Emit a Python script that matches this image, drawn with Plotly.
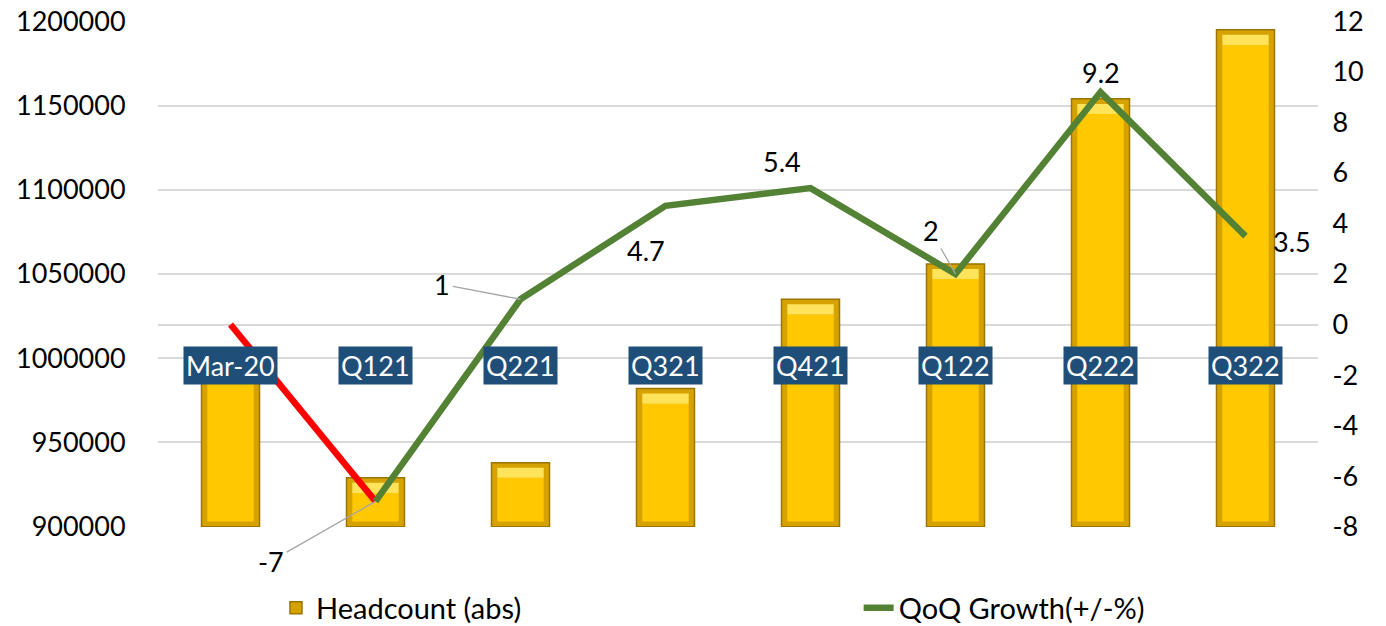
import plotly.graph_objects as go

categories = ["Mar-20", "Q121", "Q221", "Q321", "Q421", "Q122", "Q222", "Q322"]
headcount = [999000, 929000, 938000, 982000, 1035000, 1056000, 1154000, 1195000]
growth = [0, -7, 1, 4.7, 5.4, 2, 9.2, 3.5]
left_ticks = [900000, 950000, 1000000, 1050000, 1100000, 1150000, 1200000]
right_ticks = [-8, -6, -4, -2, 0, 2, 4, 6, 8, 10, 12]

FONT = "Lato"
GREEN = "#548235"
BASE = left_ticks[0]
EDGE = 3000      # bevel thickness (axis units) used for styling
TOPBAND = 9000
PAD = 0.0007     # tiny range padding so edge gridlines are drawn

lspan = left_ticks[-1] - left_ticks[0]
rspan = right_ticks[-1] - right_ticks[0]

fig = go.Figure()

fig.add_trace(go.Bar(
    x=categories, y=[v - BASE for v in headcount], base=BASE, width=0.4,
    name="Headcount (abs)",
    marker=dict(color="#D6A200", line=dict(color="#9C7400", width=1.5)),
    yaxis="y", hoverinfo="skip", legend="legend",
))
fig.add_trace(go.Bar(
    x=categories, y=[v - BASE - EDGE - TOPBAND for v in headcount], base=BASE + EDGE,
    width=0.32, marker=dict(color="#FFC800", line=dict(width=0)),
    showlegend=False, yaxis="y", hoverinfo="skip",
))
fig.add_trace(go.Bar(
    x=categories, y=[TOPBAND - EDGE] * len(categories),
    base=[v - TOPBAND for v in headcount],
    width=0.32, marker=dict(color="#FFE35A", line=dict(width=0)),
    showlegend=False, yaxis="y", hoverinfo="skip",
))

fig.add_trace(go.Scatter(
    x=categories[:2], y=growth[:2], mode="lines",
    line=dict(color="#FF0000", width=6.5), showlegend=False,
    yaxis="y2", hoverinfo="skip",
))
fig.add_trace(go.Scatter(
    x=categories[1:], y=growth[1:], mode="lines",
    line=dict(color=GREEN, width=6.5), name="QoQ Growth(+/-%)",
    yaxis="y2", hoverinfo="skip", legend="legend2",
))

annotations = []
for c in categories:
    annotations.append(dict(
        x=c, xref="x", y=0.32, yref="paper", text=c, showarrow=False,
        font=dict(family=FONT, size=27, color="white"),
        bgcolor="#1F4E79", borderpad=2, xanchor="center", yanchor="middle",
    ))

label_style = {
    1: dict(showarrow=True, ax=-105, ay=60),
    2: dict(showarrow=True, ax=-79, ay=-15),
    3: dict(showarrow=False, xshift=-20, yshift=-45),
    4: dict(showarrow=False, xshift=-29, yshift=27),
    5: dict(showarrow=True, ax=-25, ay=-44),
    6: dict(showarrow=False, yshift=20),
    7: dict(showarrow=False, xshift=46, yshift=-5),
}
for i, st in label_style.items():
    a = dict(x=categories[i], y=growth[i], xref="x", yref="y2",
             text=f"{growth[i]:g}", font=dict(family=FONT, size=27, color="black"))
    if st.get("showarrow"):
        a.update(showarrow=True, ax=st["ax"], ay=st["ay"], arrowhead=0,
                 arrowwidth=1.3, arrowcolor="#A6A6A6", standoff=0, startstandoff=2)
    else:
        a.update(showarrow=False, xshift=st.get("xshift", 0), yshift=st.get("yshift", 0))
    annotations.append(a)

legend_common = dict(orientation="h", yanchor="middle", xanchor="left",
                     font=dict(family=FONT, size=29), bgcolor="rgba(0,0,0,0)")

fig.update_layout(
    width=1386, height=626,
    margin=dict(l=158, r=68, t=21, b=99, autoexpand=False),
    paper_bgcolor="white", plot_bgcolor="white",
    font=dict(family=FONT, size=27, color="black"),
    barmode="overlay",
    xaxis=dict(type="category", range=[-0.5, 7.5], showticklabels=False,
               showgrid=False, zeroline=False, showline=False, ticks=""),
    yaxis=dict(range=[left_ticks[0] - PAD * lspan, left_ticks[-1] + PAD * lspan],
               tickvals=left_ticks, ticktext=[str(v) for v in left_ticks],
               showgrid=True, gridcolor="#D9D9D9", gridwidth=1.5,
               zeroline=False, showline=False, ticks="outside", ticklen=26,
               tickcolor="rgba(0,0,0,0)", tickfont=dict(family=FONT, size=27),
               ticklabeloverflow="allow", automargin=False),
    yaxis2=dict(range=[right_ticks[0] - PAD * rspan, right_ticks[-1] + PAD * rspan],
                tickvals=right_ticks, ticktext=[str(v) for v in right_ticks],
                overlaying="y", side="right", showgrid=False,
                zeroline=True, zerolinecolor="#D9D9D9", zerolinewidth=1.5,
                showline=False, ticks="outside", ticklen=8,
                tickcolor="rgba(0,0,0,0)", tickfont=dict(family=FONT, size=27),
                ticklabeloverflow="allow", automargin=False),
    legend=dict(x=0.1017, y=-0.16, **legend_common),
    legend2=dict(x=0.604, y=-0.16, **legend_common),
    annotations=annotations,
    showlegend=True,
)

fig.write_html("out.html", config={"displayModeBar": False},
               post_script="document.body.style.margin='0';")
